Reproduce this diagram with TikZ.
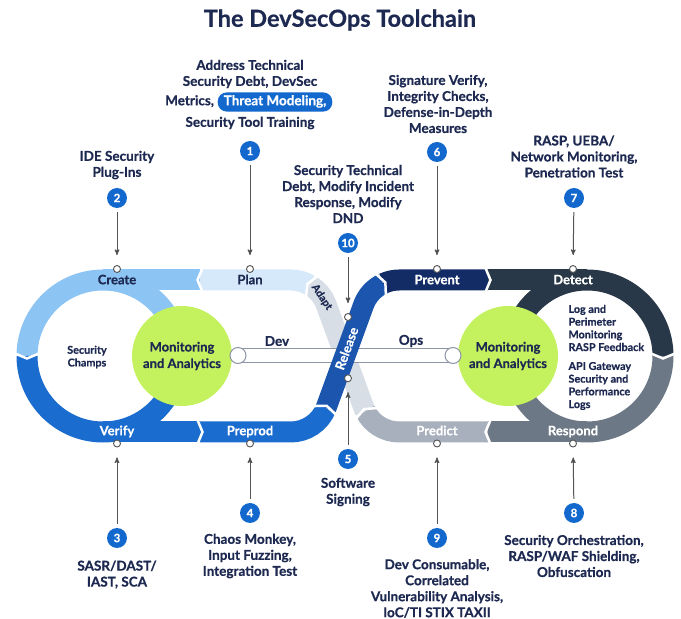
\documentclass[tikz,border=0pt]{standalone}
\usepackage{fontspec}
\setmainfont{Lato}[BoldFeatures={FakeBold=0.6}]
\usepackage{tikz}
\usetikzlibrary{positioning}
\usetikzlibrary{arrows}

\definecolor{navy}{HTML}{1D2951}
\definecolor{createblue}{HTML}{8CC4F4}
\definecolor{planblue}{HTML}{D5E9FA}
\definecolor{verifyblue}{HTML}{1A6CCF}
\definecolor{releaseblue}{HTML}{1C55AE}
\definecolor{preventnavy}{HTML}{142C66}
\definecolor{detectslate}{HTML}{283848}
\definecolor{respondgray}{HTML}{6D7886}
\definecolor{predictgray}{HTML}{A7B0BC}
\definecolor{adaptgray}{HTML}{D8DEE6}
\definecolor{lime}{HTML}{C4F25E}
\definecolor{badgeblue}{HTML}{1368CE}
\definecolor{arrowgray}{HTML}{555555}
\definecolor{tubegray}{HTML}{8C96A3}

% white chevron cut across a band: x, y, flow direction
\newcommand{\bandgap}[3]{%
	\draw[white,line width=2.5pt,shift={(#1,#2)},rotate=#3] (-2.5,-12) -- (2.5,0) -- (-2.5,12);}

\begin{document}
\begin{tikzpicture}[x=1pt,y=1pt,>=stealth',
	band/.style={line width=21pt},
	txt/.style={font=\fontsize{13.5}{16}\selectfont\bfseries,text=navy,align=center},
	small txt/.style={font=\fontsize{10.8}{12.7}\selectfont\bfseries,text=navy,align=left},
	stage/.style={font=\fontsize{13}{14}\selectfont\bfseries,text=white,text height=9pt,text depth=2.5pt},
	num/.style={circle,fill=badgeblue,text=white,minimum size=20pt,inner sep=0pt,font=\fontsize{11.5}{13}\selectfont\bfseries},
	dot/.style={circle,draw=arrowgray,fill=white,line width=0.9pt,minimum size=7pt,inner sep=0pt},
	tube end/.style={circle,draw=tubegray,fill=white,line width=1pt,minimum size=16pt,inner sep=0pt},
	mon/.style={circle,fill=lime,minimum size=100pt,inner sep=0pt,align=center,text=navy,font=\fontsize{13}{16.5}\selectfont\bfseries},
	pill/.style={fill=badgeblue,text=white,rounded corners=9pt,inner xsep=6pt,minimum height=19pt,font=\fontsize{13.5}{16}\selectfont\bfseries},
	arr/.style={->,draw=arrowgray,line width=1pt}]
	
	\useasboundingbox (0,0) rectangle (681,619);
	\fill[white] (0,0) rectangle (681,619);
	
	% the loop, one band per stage
	\draw[band,adaptgray] (399.2,225) ++(207:38) arc[start angle=207,end angle=200,radius=38pt] -- ++(110:108.5) arc[start angle=20,end angle=60,radius=38pt];
	\draw[band,planblue] (290.7,301) ++(60:38) arc[start angle=60,end angle=90,radius=38pt] -- (200,339);
	\draw[band,createblue] (179,263) arc[start angle=0,end angle=180,radius=76pt];
	\draw[band,createblue] (103,339) -- (200,339);
	\draw[band,verifyblue] (27,263) arc[start angle=180,end angle=360,radius=76pt];
	\draw[band,verifyblue] (103,187) -- (200,187);
	\draw[band,verifyblue] (200,187) -- (290.7,187) arc[start angle=-90,end angle=-22,radius=38pt];
	\draw[band,predictgray] (488,187) -- (399.2,187) arc[start angle=270,end angle=207,radius=38pt];
	\draw[band,detectslate] (663,263) arc[start angle=0,end angle=180,radius=76pt];
	\draw[band,detectslate] (488,339) -- (587,339);
	\draw[band,respondgray] (663,263) arc[start angle=0,end angle=-180,radius=76pt];
	\draw[band,respondgray] (488,187) -- (587,187);
	\draw[band,preventnavy] (399.2,301) ++(115:38) arc[start angle=115,end angle=90,radius=38pt] -- (488,339);
	
	% monitoring hubs and the dev/ops tube
	\node[mon] (L) at (182,263) {Monitoring\\and Analytics};
	\node[mon] (R) at (508,263) {Monitoring\\and Analytics};
	\coordinate (c) at (238,263.5);
	\coordinate (d) at (453,263.5);
	\draw[tubegray,line width=15pt] (c) -- (d);
	\draw[white,line width=13.2pt] (c) -- (d);
	\node[tube end] (dev end) at (c) {};
	\node[tube end] (ops end) at (d) {};
	\node[txt] (dev) at (277,278) {Dev};
	\node[txt] (ops) at (411,278) {Ops};
	
	\draw[band,releaseblue] (290.7,225) ++(-22:38) arc[start angle=-22,end angle=-20,radius=38pt] -- ++(70:108.5) arc[start angle=160,end angle=115,radius=38pt];
	
	\bandgap{200}{339}{180}
	\bandgap{27}{263}{270}
	\bandgap{200}{187}{0}
	\bandgap{325.9}{210.8}{68}
	\bandgap{383.1}{335.4}{25}
	\bandgap{488}{339}{0}
	\bandgap{663}{263}{270}
	\bandgap{488}{187}{180}
	\bandgap{365.3}{207.7}{117}
	\bandgap{309.7}{333.9}{150}
	
	% stage names
	\node[stage,text=navy] (create) at (117,338) {Create};
	\node[stage,text=navy] (plan) at (250,338) {Plan};
	\node[stage] (verify) at (117,187) {Verify};
	\node[stage] (preprod) at (250,187) {Preprod};
	\node[stage] (prevent) at (437,338) {Prevent};
	\node[stage] (detect) at (573,338) {Detect};
	\node[stage] (predict) at (437,187) {Predict};
	\node[stage] (respond) at (573,187) {Respond};
	\node[stage,rotate=70] (release) at (348,270) {Release};
	\node[stage,text=navy,rotate=-56,inner sep=1pt,font=\fontsize{10.5}{12}\selectfont\bfseries] (adapt) at (322,322) {Adapt};
	
	\node[small txt,align=center] (champs) at (87,262) {Security\\Champs};
	\node[small txt,anchor=west] (logs) at (565,291) {Log and\\Perimeter\\Monitoring\\RASP Feedback};
	\node[small txt,anchor=west] (api) at (565,233) {API Gateway\\Security and\\Performance\\Logs};
	
	% markers on the bands
	\node[dot] (a) at (117,350) {};
	\node[dot] (b) at (250,350) {};
	\node[dot] (c1) at (437,350) {};
	\node[dot] (d1) at (573,350) {};
	\node[dot] (e) at (117,175.5) {};
	\node[dot] (f) at (250,175.5) {};
	\node[dot] (g) at (437,175.5) {};
	\node[dot] (h) at (573,175.5) {};
	\node[dot] (i) at (348,302) {};
	\node[dot] (j) at (348,240.7) {};
	
	% numbered steps
	\node[num] (1) at (250,468) {1};
	\node[num] (2) at (117,421) {2};
	\node[num] (3) at (117,81) {3};
	\node[num] (4) at (250,106) {4};
	\node[num] (5) at (348,160) {5};
	\node[num] (6) at (437,467) {6};
	\node[num] (7) at (574,421) {7};
	\node[num] (8) at (574,106) {8};
	\node[num] (9) at (437,81) {9};
	\node[num] (10) at (348,376) {10};
	
	\path[arr,shorten <=4pt,shorten >=10pt]
	(1) edge (b)
	(2) edge (a)
	(6) edge (c1)
	(7) edge (d1)
	(3) edge (e)
	(4) edge (f)
	(9) edge (g)
	(8) edge (h)
	(10) edge (i)
	(5) edge (j);
	
	% step texts
	\node[font=\fontsize{23.5}{26}\selectfont\bfseries,text=navy] (T) at (340,599) {The DevSecOps Toolchain};
	\node[txt] (A) at (250,545) {Address Technical\\Security Debt, DevSec};
	\node[pill,text height=9.5pt,text depth=3pt] (P) at (275,517) {Threat Modeling,};
	\node[txt,text height=9.5pt,text depth=3pt,left=0pt of P] (M) {Metrics,};
	\node[txt] (B) at (250,496) {Security Tool Training};
	\node[txt] (C) at (117,454) {IDE Security\\Plug-Ins};
	\node[txt] (D) at (438,515) {Signature Verify,\\Integrity Checks,\\Defense-in-Depth\\Measures};
	\node[txt] (E) at (574,462.5) {RASP, UEBA/\\Network Monitoring,\\Penetration Test};
	\node[txt] (F) at (348,425) {Security Technical\\Debt, Modify Incident\\Response, Modify\\DND};
	\node[txt] (G) at (117,44.5) {SASR/DAST/\\IAST, SCA};
	\node[txt] (H) at (250,63) {Chaos Monkey,\\Input Fuzzing,\\Integration Test};
	\node[txt] (I) at (348,127) {Software\\Signing};
	\node[txt] (J) at (437,30.5) {Dev Consumable,\\Correlated\\Vulnerability Analysis,\\IoC/TI STIX TAXII};
	\node[txt] (K) at (574,63) {Security Orchestration,\\RASP/WAF Shielding,\\Obfuscation};
\end{tikzpicture}
\end{document}
